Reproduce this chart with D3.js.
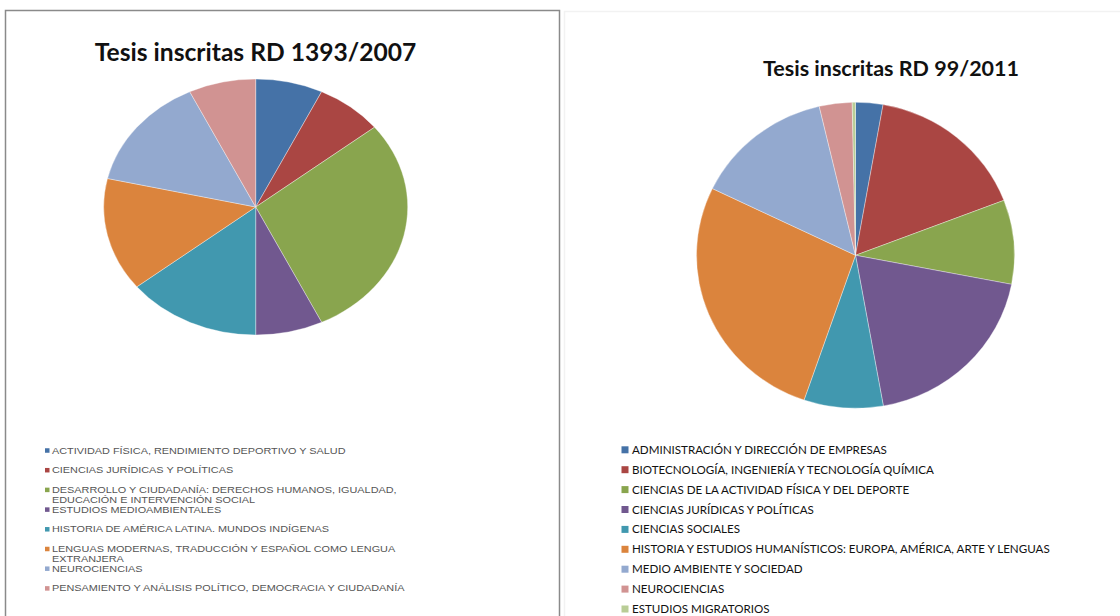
<!DOCTYPE html>
<html>
<head>
<meta charset="utf-8">
<script src="https://cdnjs.cloudflare.com/ajax/libs/d3/7.8.5/d3.min.js"></script>
<style>
  html, body { margin: 0; padding: 0; background: #fff; }
  svg { display: block; }
</style>
</head>
<body>
<svg id="chart" width="1120" height="616"></svg>
<script>
// ---- Data ----
const leftTitle = "Tesis inscritas RD 1393/2007";
const leftLabels = [
  "ACTIVIDAD FÍSICA, RENDIMIENTO DEPORTIVO Y SALUD",
  "CIENCIAS JURÍDICAS Y POLÍTICAS",
  "DESARROLLO Y CIUDADANÍA: DERECHOS HUMANOS, IGUALDAD,\nEDUCACIÓN E INTERVENCIÓN SOCIAL",
  "ESTUDIOS MEDIOAMBIENTALES",
  "HISTORIA DE AMÉRICA LATINA. MUNDOS INDÍGENAS",
  "LENGUAS MODERNAS, TRADUCCIÓN Y ESPAÑOL COMO LENGUA\nEXTRANJERA",
  "NEUROCIENCIAS",
  "PENSAMIENTO Y ANÁLISIS POLÍTICO, DEMOCRACIA Y CIUDADANÍA"
];
const leftValues = [1, 1, 4, 1, 2, 2, 2, 1];

const rightTitle = "Tesis inscritas RD 99/2011";
const rightLabels = [
  "ADMINISTRACIÓN Y DIRECCIÓN DE EMPRESAS",
  "BIOTECNOLOGÍA, INGENIERÍA Y TECNOLOGÍA QUÍMICA",
  "CIENCIAS DE LA ACTIVIDAD FÍSICA Y DEL DEPORTE",
  "CIENCIAS JURÍDICAS Y POLÍTICAS",
  "CIENCIAS SOCIALES",
  "HISTORIA Y ESTUDIOS HUMANÍSTICOS: EUROPA, AMÉRICA, ARTE Y LENGUAS",
  "MEDIO AMBIENTE Y SOCIEDAD",
  "NEUROCIENCIAS",
  "ESTUDIOS MIGRATORIOS"
];
const rightValues = [10, 59, 32, 69, 29, 97, 51, 12, 1.2];

const palette = ["#4572A7", "#AA4643", "#89A54E", "#71588F", "#4198AF",
                 "#DB843D", "#93A9CF", "#D19392", "#B9CD96"];

// ---- Drawing ----
const svg = d3.select("#chart");

// Panel frames
svg.append("rect").attr("x", 5.5).attr("y", 10.5).attr("width", 554).attr("height", 640)
  .attr("fill", "#fff").attr("stroke", "#8a8a8a").attr("stroke-width", 1.5);
svg.append("rect").attr("x", 564.5).attr("y", 11.5).attr("width", 600).attr("height", 640)
  .attr("fill", "#fff").attr("stroke", "#f2f2f2").attr("stroke-width", 1.5);

function drawPie(opts) {
  const color = d3.scaleOrdinal().domain(d3.range(opts.values.length)).range(palette);
  const pie = d3.pie().sort(null).value(d => d);
  const arc = d3.arc().innerRadius(0).outerRadius(opts.ry);
  const g = svg.append("g")
    .attr("transform", `translate(${opts.cx},${opts.cy}) scale(${opts.rx / opts.ry},1)`);
  g.selectAll("path").data(pie(opts.values)).join("path")
    .attr("d", arc)
    .attr("fill", (d, i) => color(i))
    .attr("stroke", "#ffffff")
    .attr("stroke-opacity", 0.45)
    .attr("stroke-width", 0.8)
    .attr("vector-effect", "non-scaling-stroke");

  svg.append("text")
    .attr("x", opts.titleX).attr("y", opts.titleY)
    .attr("text-anchor", "middle")
    .attr("font-family", "Lato, 'Open Sans', sans-serif")
    .attr("font-weight", 700)
    .attr("font-size", opts.titleSize)
    .attr("fill", "#111")
    .text(opts.title);

  const lg = svg.append("g");
  opts.labels.forEach((lab, i) => {
    const y = opts.legY + i * opts.legStep;
    lg.append("rect")
      .attr("x", opts.markX).attr("y", y - opts.markSize / 2)
      .attr("width", opts.markSize).attr("height", opts.markSize)
      .attr("fill", color(i));
    const t = lg.append("text")
      .attr("transform", `translate(${opts.textX},0) scale(${opts.stretch},1)`)
      .attr("x", 0).attr("y", y)
      .attr("font-family", opts.legFont)
      .attr("font-size", opts.legSize)
      .attr("font-weight", opts.legWeight)
      .attr("fill", opts.legColor);
    lab.split("\n").forEach((line, j) => {
      t.append("tspan").attr("x", 0).attr("y", y + j * opts.lineH)
        .attr("dy", "0.35em").text(line);
    });
  });
}

drawPie({
  values: leftValues, labels: leftLabels, title: leftTitle,
  cx: 255.7, cy: 207, rx: 152, ry: 128,
  titleX: 255.5, titleY: 61, titleSize: 24.6,
  legY: 450.5, legStep: 19.7, lineH: 9.9, markX: 45, markSize: 4.5, textX: 52,
  legFont: "'Liberation Sans', Arial, sans-serif", legSize: 8.7, stretch: 1.25,
  legWeight: 400, legColor: "#555"
});

drawPie({
  values: rightValues, labels: rightLabels, title: rightTitle,
  cx: 855.5, cy: 255.3, rx: 159, ry: 153,
  titleX: 891, titleY: 76, titleSize: 21.5,
  legY: 449.8, legStep: 19.9, lineH: 12, markX: 621.5, markSize: 7, textX: 632,
  legFont: "Lato, 'Open Sans', sans-serif", legSize: 11.6, stretch: 1,
  legWeight: 400, legColor: "#111"
});
</script>
</body>
</html>
